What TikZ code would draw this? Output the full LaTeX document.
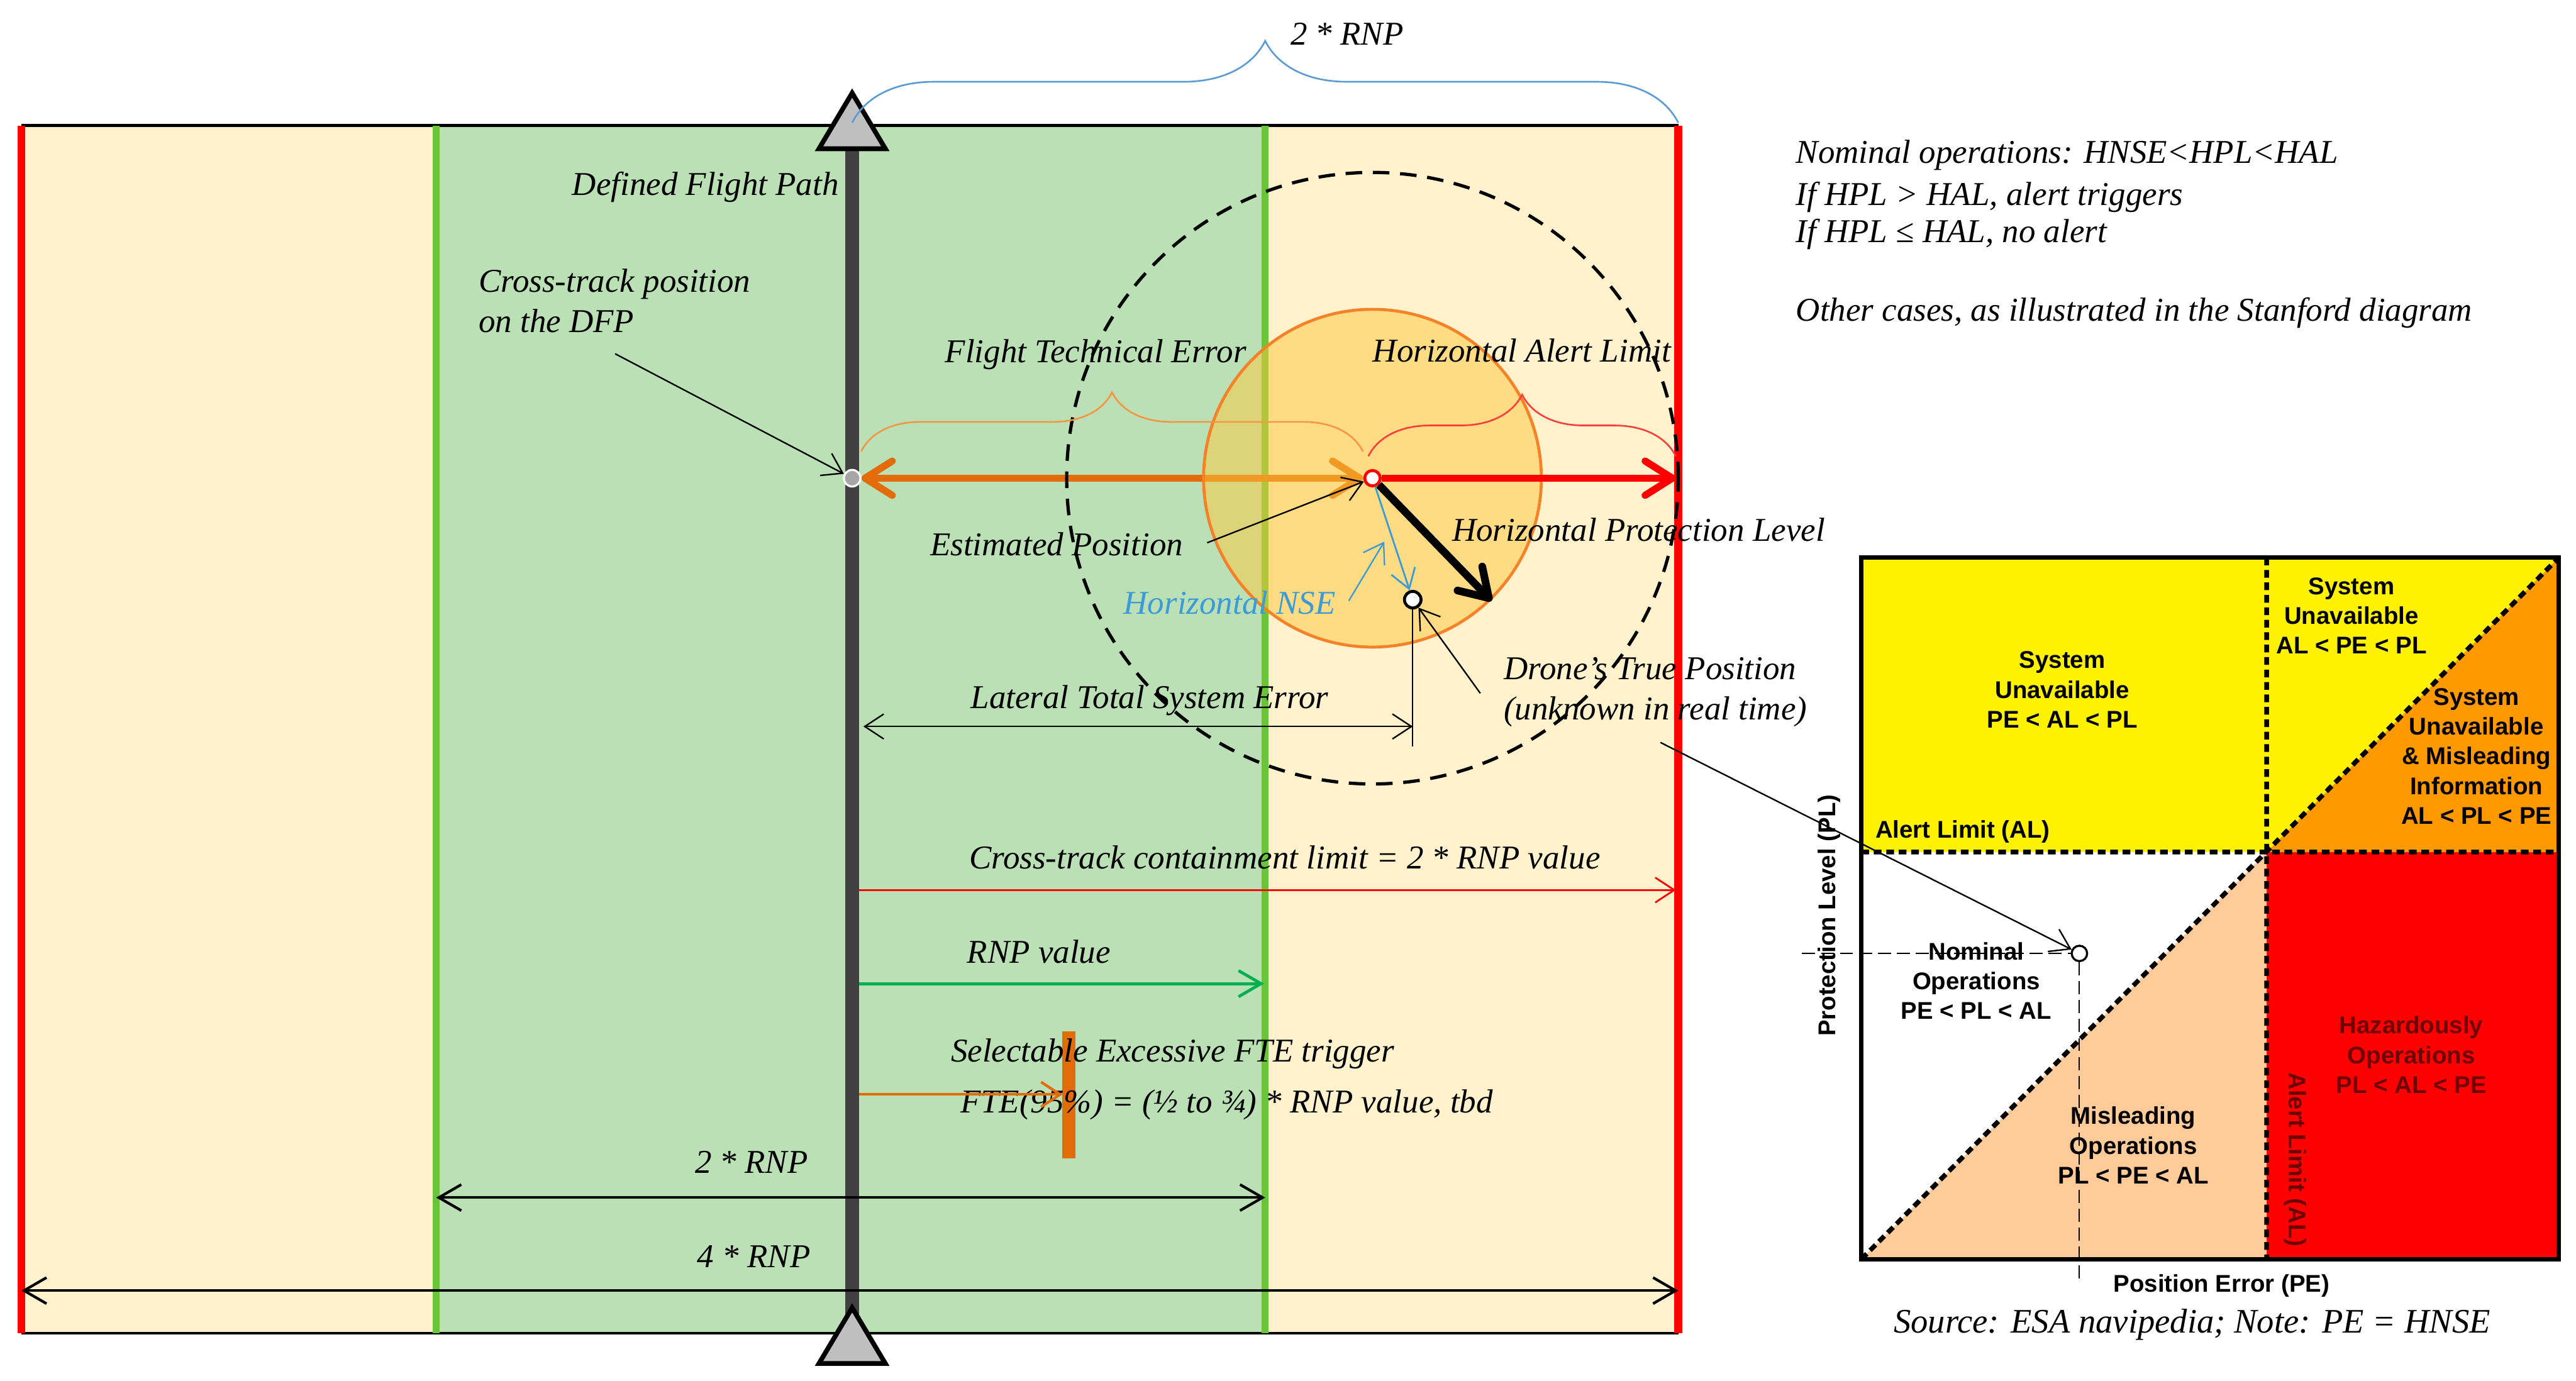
\documentclass[tikz,border=0pt]{standalone}
\usepackage{fontspec}
\setmainfont{Liberation Serif}
\setsansfont{Liberation Sans}
\usetikzlibrary{arrows.meta,decorations.pathreplacing,backgrounds}

\definecolor{cream}{RGB}{255,242,204}
\definecolor{lgreen}{RGB}{187,224,181}
\definecolor{vgreen}{RGB}{104,196,56}
\definecolor{rnpgreen}{RGB}{0,176,80}
\definecolor{dfpgray}{RGB}{64,64,64}
\definecolor{fteorange}{RGB}{226,107,10}
\definecolor{bracebl}{RGB}{91,155,213}
\definecolor{braceor}{RGB}{245,150,70}
\definecolor{bracered}{RGB}{255,60,60}
\definecolor{hplfill}{RGB}{255,200,60}
\definecolor{hplline}{RGB}{245,130,40}
\definecolor{nseblue}{RGB}{60,155,215}
\definecolor{peach}{RGB}{255,204,153}
\definecolor{alorange}{RGB}{255,153,0}
\definecolor{hazred}{RGB}{110,0,0}

\tikzset{
  fathead/.tip={Straight Barb[length=4.6mm,width=5.8mm,round]},
  midhead/.tip={Straight Barb[length=3.8mm,width=4.4mm]},
  thinhead/.tip={Straight Barb[length=3.2mm,width=4.2mm]},
  lbl/.style={font=\fontsize{16}{19.3}\selectfont\itshape,inner sep=0pt},
  stanlbl/.style={font=\fontsize{11.6}{14.3}\selectfont\sffamily\bfseries,align=center,inner sep=0pt},
  leader/.style={line width=0.025cm,-thinhead},
  fatline/.style={line width=0.12cm},
  dimline/.style={line width=0.045cm},
  curly/.style={decorate,decoration={brace,amplitude=#1},line width=0.028cm},
  aldash/.style={line width=0.08cm,dash pattern=on 0.13cm off 0.08cm},
  thindash/.style={line width=0.022cm,dash pattern=on 0.22cm off 0.1cm},
  dfpmark/.style={circle,fill=black!35,draw=white,line width=0.035cm,minimum size=0.28cm,inner sep=0pt},
  epmark/.style={circle,fill=white,draw=red,line width=0.05cm,minimum size=0.26cm,inner sep=0pt},
  tpmark/.style={circle,fill=white,draw=black,line width=0.05cm,minimum size=0.28cm,inner sep=0pt},
  stanmark/.style={circle,fill=white,draw=black,line width=0.035cm,minimum size=0.26cm,inner sep=0pt},
  navtri/.style={fill=black!25,draw=black,line width=0.08cm},
}

\begin{document}
\begin{tikzpicture}
  \useasboundingbox (0,0) rectangle (43.47,-23.30);
  % points on the cross-track line
  \node[dfpmark] (dfp) at (14.38,-8.07) {};
  \node[epmark] (ep) at (23.16,-8.07) {};
  \node[tpmark] (tp) at (23.84,-10.12) {};
  \coordinate (hal) at (28.28,-8.07);
  \coordinate (hpl) at (25.17,-10.14);

  \begin{scope}[on background layer]
    \fill[cream] (0.36,-2.12) rectangle (28.32,-22.50);
    \fill[lgreen] (7.36,-2.12) rectangle (21.35,-22.50);
    \draw[line width=0.05cm] (0.36,-2.12) -- (28.32,-2.12) (0.36,-22.50) -- (28.32,-22.50);
    \draw[red,line width=0.13cm] (0.36,-2.12) -- (0.36,-22.50) (28.32,-2.12) -- (28.32,-22.50);
    \draw[vgreen,line width=0.12cm] (7.36,-2.12) -- (7.36,-22.50) (21.35,-2.12) -- (21.35,-22.50);
    \draw[dfpgray,line width=0.24cm] (14.38,-2.4) -- (14.38,-22.2);
    \draw[fatline,fteorange,fathead-fathead] (dfp) -- (ep);
    \fill[hplfill,fill opacity=0.5] (ep) circle (2.85);
    \draw[hplline,line width=0.05cm] (ep) circle (2.85);
  \end{scope}

  \draw[line width=0.055cm,dash pattern=on 0.28cm off 0.18cm] (ep) circle (5.16);
  \draw[navtri] (14.38,-1.57) -- (14.94,-2.51) -- (13.82,-2.51) -- cycle;
  \draw[navtri] (14.38,-22.07) -- (14.94,-23.01) -- (13.82,-23.01) -- cycle;

  % braces
  \draw[curly=1.38cm,bracebl] (14.38,-2.07) -- (28.32,-2.07);
  \node[lbl] (rnptop) at (22.73,-0.57) {2 * RNP};
  \draw[curly=1.0cm,braceor] (14.53,-7.62) -- (23.0,-7.62);
  \node[lbl] (ftelbl) at (18.49,-5.98) {Flight Technical Error};
  \draw[curly=1.04cm,bracered] (23.09,-7.70) -- (28.28,-7.70);
  \node[lbl] (hallbl) at (25.68,-5.92) {Horizontal Alert Limit};

  \draw[fatline,red,-fathead] (ep) -- (hal);
  \draw[line width=0.13cm,-fathead] (ep) -- (hpl);
  \draw[line width=0.03cm,nseblue,-thinhead] (ep) -- (tp);

  \node[lbl,anchor=east] (dfplbl) at (14.16,-3.16) {Defined Flight Path};
  \node[lbl,anchor=west,align=left] (ctlbl) at (8.07,-5.08) {Cross-track position\\on the DFP};
  \coordinate (ctfrom) at (10.38,-5.97);
  \draw[leader] (ctfrom) -- (dfp);
  \node[lbl] (eplbl) at (17.83,-9.18) {Estimated Position};
  \coordinate (epfrom) at (20.37,-9.16);
  \draw[leader] (epfrom) -- (ep);
  \node[lbl,anchor=west] (hpllbl) at (24.50,-8.94) {Horizontal Protection Level};
  \node[lbl,nseblue] (nselbl) at (20.75,-10.17) {Horizontal NSE};
  \coordinate (nsefrom) at (22.76,-10.14);
  \coordinate (nseto) at (23.36,-9.14);
  \draw[leader,nseblue] (nsefrom) -- (nseto);
  \node[lbl,anchor=west,align=left] (tplbl) at (25.37,-11.68) {Drone’s True Position\\(unknown in real time)};
  \coordinate (tpfrom) at (24.98,-11.70);
  \draw[leader] (tpfrom) -- (tp);

  \node[lbl] (tselbl) at (19.40,-11.82) {Lateral Total System Error};
  \coordinate (tsel) at (14.57,-12.26);
  \coordinate (tser) at (23.84,-12.26);
  \coordinate (tsebot) at (23.84,-12.60);
  \draw[line width=0.022cm] (tp) -- (tsebot);
  \draw[line width=0.025cm,thinhead-thinhead] (tsel) -- (tser);

  \node[lbl] (ctllbl) at (21.68,-14.47) {Cross-track containment limit = 2 * RNP value};
  \coordinate (ctll) at (14.50,-15.02);
  \coordinate (ctlr) at (28.28,-15.02);
  \draw[line width=0.03cm,red,-thinhead] (ctll) -- (ctlr);
  \node[lbl] (rnplbl) at (17.53,-16.06) {RNP value};
  \coordinate (rnpl) at (14.50,-16.60);
  \coordinate (rnpr) at (21.33,-16.60);
  \draw[line width=0.05cm,rnpgreen,-midhead] (rnpl) -- (rnpr);
  \fill[fteorange] (17.93,-17.41) rectangle (18.15,-19.55);
  \node[lbl,anchor=west] (trglbl) at (16.04,-17.78) {Selectable Excessive FTE trigger};
  \node[lbl,anchor=west] (ftepct) at (16.20,-18.64) {FTE(95\%) = (½ to ¾) * RNP value, tbd};
  \coordinate (trgl) at (14.50,-18.47);
  \coordinate (trgr) at (17.93,-18.47);
  \draw[line width=0.045cm,fteorange,-thinhead] (trgl) -- (trgr);

  \node[lbl,anchor=east] (rnp2lbl) at (13.64,-19.61) {2 * RNP};
  \coordinate (rnp2l) at (7.36,-20.21);
  \coordinate (rnp2r) at (21.35,-20.21);
  \draw[dimline,midhead-midhead] (rnp2l) -- (rnp2r);
  \node[lbl,anchor=east] (rnp4lbl) at (13.68,-21.21) {4 * RNP};
  \coordinate (rnp4l) at (0.36,-21.78);
  \coordinate (rnp4r) at (28.32,-21.78);
  \draw[dimline,midhead-midhead] (rnp4l) -- (rnp4r);

  % notes
  \node[lbl,anchor=west] (nomtxt) at (30.30,-2.62) {Nominal operations: HNSE<HPL<HAL};
  \node[lbl,anchor=west] (alttxt) at (30.30,-3.33) {If HPL > HAL, alert triggers};
  \node[lbl,anchor=west] (noalt) at (30.30,-3.95) {If HPL ≤ HAL, no alert};
  \node[lbl,anchor=west] (othtxt) at (30.30,-5.28) {Other cases, as illustrated in the Stanford diagram};

  % Stanford diagram
  \fill[yellow] (31.41,-9.41) rectangle (43.18,-14.38);
  \fill[alorange] (38.25,-14.38) -- (43.18,-9.41) -- (43.18,-14.38) -- cycle;
  \fill[red] (38.25,-14.38) rectangle (43.18,-21.25);
  \fill[peach] (31.41,-21.25) -- (38.25,-14.38) -- (38.25,-21.25) -- cycle;
  \draw[aldash] (31.41,-14.38) -- (43.18,-14.38) (38.25,-9.41) -- (38.25,-21.25) (31.41,-21.25) -- (43.18,-9.41);
  \draw[line width=0.07cm] (31.41,-9.41) rectangle (43.18,-21.25);

  \node[stanlbl] (sua) at (34.80,-11.64) {System\\Unavailable\\PE < AL < PL};
  \node[stanlbl] (sub) at (39.68,-10.39) {System\\Unavailable\\AL < PE < PL};
  \node[stanlbl] (suc) at (41.79,-12.76) {System\\Unavailable\\\& Misleading\\Information\\AL < PL < PE};
  \node[stanlbl,anchor=west] (allbl) at (31.64,-14.04) {Alert Limit (AL)};
  \node[stanlbl] (nomlbl) at (33.35,-16.55) {Nominal\\Operations\\PE < PL < AL};
  \node[stanlbl] (mislbl) at (36.00,-19.33) {Misleading\\Operations\\PL < PE < AL};
  \node[stanlbl,hazred] (hazlbl) at (40.69,-17.80) {Hazardously\\Operations\\PL < AL < PE};
  \node[stanlbl,hazred,rotate=-90] (alvlbl) at (38.73,-19.57) {Alert Limit (AL)};
  \node[stanlbl,rotate=90] (pllbl) at (30.87,-15.45) {Protection Level (PL)};
  \node[stanlbl] (pelbl) at (37.49,-21.70) {Position Error (PE)};
  \node[font=\fontsize{16.5}{20}\selectfont\itshape,inner sep=0pt] (srclbl) at (36.99,-22.35) {Source: ESA navipedia; Note: PE = HNSE};

  \node[stanmark] (stpt) at (35.09,-16.09) {};
  \coordinate (plref) at (30.41,-16.09);
  \coordinate (peref) at (35.09,-21.67);
  \draw[thindash] (plref) -- (stpt);
  \draw[thindash] (stpt) -- (peref);
  \coordinate (stfrom) at (28.02,-12.53);
  \draw[leader] (stfrom) -- (stpt);
\end{tikzpicture}
\end{document}
